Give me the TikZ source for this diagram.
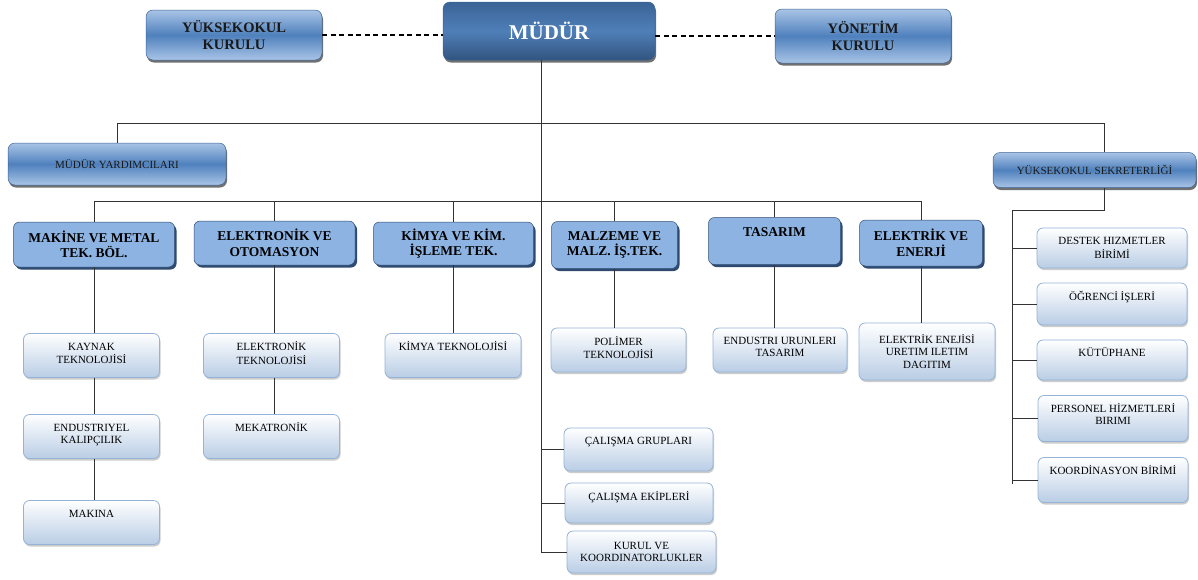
\documentclass[tikz,border=0pt]{standalone}
\usepackage{fontspec}
\setmainfont{Liberation Serif}
\usetikzlibrary{calc,shadows}

\definecolor{glassblue}{HTML}{4F81BD}
\definecolor{glasslight}{HTML}{A9C4E6}
\definecolor{glassedge}{HTML}{3C6497}
\definecolor{chiefblue}{HTML}{3A6396}
\definecolor{chieflight}{HTML}{4F7FB8}
\definecolor{deptblue}{HTML}{8DB3E2}
\definecolor{deptedge}{HTML}{2E4A70}
\definecolor{subedge}{HTML}{95B3D7}
\definecolor{subfill}{HTML}{B9CDE5}
\definecolor{wire}{HTML}{333333}

\newcommand{\toptext}[2][28pt]{\parbox[c][#1][t]{132pt}{\centering\strut#2}}

\tikzset{
  board/.style={rounded corners=7pt, draw=glassedge, line width=0.5pt,
    top color=glasslight, bottom color=glasslight, middle color=glassblue,
    drop shadow={shadow xshift=1pt, shadow yshift=-2.5pt, fill=black!70, opacity=0.8},
    align=center, inner sep=0pt, text=black!90},
  chief/.style={board, top color=chiefblue, bottom color=chiefblue!85!black,
    middle color=chieflight, text=white},
  dept/.style={rounded corners=6pt, draw=deptedge, fill=deptblue, line width=0.5pt,
    drop shadow={shadow xshift=2pt, shadow yshift=-2.5pt, fill=deptedge, opacity=1},
    align=center, inner sep=0pt, font=\bfseries\fontsize{13.5}{15.5}\selectfont},
  unit/.style={rounded corners=6pt, draw=subedge, line width=0.8pt,
    top color=white, bottom color=subfill,
    drop shadow={shadow xshift=1pt, shadow yshift=-2pt, fill=black!25, opacity=0.8},
    align=center, inner sep=0pt, font=\fontsize{11}{12.3}\selectfont},
  link/.style={draw=wire, line width=0.8pt},
  council/.style={draw=black, line width=1.5pt, dash pattern=on 5pt off 3.5pt}
}

\begin{document}
\begin{tikzpicture}[x=1pt, y=-1pt]
  %%%%% START %%%%%
  \useasboundingbox (0,0) rectangle (1198,579);

  % top row
  \node[chief, minimum width=212, minimum height=58, font=\bfseries\fontsize{21}{24}\selectfont] (mudur) at (549,31) {MÜDÜR};
  \node[board, minimum width=176, minimum height=50, font=\bfseries\fontsize{14.5}{16.5}\selectfont] (kurul) at (234,35) {YÜKSEKOKUL\\KURULU};
  \node[board, minimum width=176, minimum height=54, font=\bfseries\fontsize{14.5}{16.5}\selectfont] (yonetim) at (863,36) {YÖNETİM\\KURULU};

  \node[board, minimum width=218, minimum height=42, font=\fontsize{11}{13}\selectfont] (yard) at (117,164) {MÜDÜR YARDIMCILARI};
  \node[board, minimum width=203, minimum height=35, font=\fontsize{11}{13}\selectfont] (sekr) at (1094.5,170) {YÜKSEKOKUL SEKRETERLİĞİ};

  % departments
  \node[dept, minimum width=161, minimum height=45] (makine) at (94,244.5) {MAKİNE VE METAL\\TEK. BÖL.};
  \node[dept, minimum width=161, minimum height=44] (elektronik) at (274.5,243) {ELEKTRONİK VE\\OTOMASYON};
  \node[dept, minimum width=160, minimum height=43] (kimya) at (453.5,243.5) {KİMYA VE KİM.\\İŞLEME TEK.};
  \node[dept, minimum width=126, minimum height=47] (malzeme) at (614.5,245) {MALZEME VE\\MALZ. İŞ.TEK.};
  \node[dept, minimum width=123, minimum height=47] (tasarim) at (774.5,241) {\toptext[31pt]{TASARIM}};
  \node[dept, minimum width=123, minimum height=46] (elektrik) at (921,243) {ELEKTRİK VE\\ENERJİ};

  % programmes
  \node[unit, minimum width=136, minimum height=44] (kaynak) at (91.5,355.5) {\toptext{KAYNAK\\TEKNOLOJİSİ}};
  \node[unit, minimum width=136, minimum height=44] (kalip) at (91.5,436.5) {\toptext{ENDUSTRIYEL\\KALIPÇILIK}};
  \node[unit, minimum width=136, minimum height=44] (makina) at (91.5,522.5) {\toptext{MAKINA}};
  \node[unit, minimum width=136, minimum height=44] (elteknik) at (271.5,355.5) {\toptext{ELEKTRONİK\\TEKNOLOJİSİ}};
  \node[unit, minimum width=136, minimum height=44] (mekatronik) at (271.5,436.5) {\toptext{MEKATRONİK}};
  \node[unit, minimum width=136, minimum height=44] (kimtek) at (453,355.5) {\toptext{KİMYA TEKNOLOJİSİ}};
  \node[unit, minimum width=135, minimum height=44] (polimer) at (618.5,350) {\toptext{POLİMER\\TEKNOLOJİSİ}};
  \node[unit, minimum width=134, minimum height=44] (endurun) at (780,350) {\toptext{ENDUSTRI URUNLERI\\TASARIM}};
  \node[unit, minimum width=136, minimum height=57] (elenerji) at (927,351.5) {ELEKTRİK ENEJİSİ\\URETIM ILETIM\\DAGITIM};

  % boards under the director
  \node[unit, minimum width=149, minimum height=43] (calgrup) at (638.5,449.5) {\toptext[27pt]{ÇALIŞMA GRUPLARI}};
  \node[unit, minimum width=148, minimum height=40] (calekip) at (639,503) {\toptext[24pt]{ÇALIŞMA EKİPLERİ}};
  \node[unit, minimum width=149, minimum height=42] (kurulko) at (641.5,552) {KURUL VE\\KOORDINATORLUKLER};

  % secretariat units
  \node[unit, minimum width=150, minimum height=40] (destek) at (1112,248) {\toptext[24pt]{DESTEK HIZMETLER\\BİRİMİ}};
  \node[unit, minimum width=150, minimum height=42] (ogrenci) at (1112,304) {\toptext[26pt]{ÖĞRENCİ İŞLERİ}};
  \node[unit, minimum width=150, minimum height=40] (kutup) at (1112,360) {\toptext[24pt]{KÜTÜPHANE}};
  \node[unit, minimum width=150, minimum height=46] (personel) at (1113,418.5) {\toptext[30pt]{PERSONEL HİZMETLERİ\\BIRIMI}};
  \node[unit, minimum width=150, minimum height=45] (koord) at (1113,480) {\toptext[29pt]{KOORDİNASYON BİRİMİ}};

  % connectors
  \draw[council] (kurul.east) -- (kurul.east -| mudur.west);
  \draw[council] (yonetim.west -| mudur.east) -- (yonetim.west);

  \coordinate (trunk) at ($(mudur.south)+(-8,0)$);
  \coordinate (sekrtop) at ($(sekr.north)+(10,0)$);
  \coordinate (bus) at (0,201);
  \coordinate (sbus) at (1012,210);

  \draw[link] (yard.north) -- ++(0,-19) -| (sekrtop);
  \draw[link] (trunk) -- (trunk |- kurulko.west);
  \foreach \u in {calgrup,calekip,kurulko}
    \draw[link] (trunk |- \u.west) -- (\u.west);

  \draw[link] (makine.north) -- (makine.north |- bus) -- (elektrik.north |- bus) -- (elektrik.north);
  \foreach \d in {elektronik,kimya,malzeme,tasarim}
    \draw[link] (\d.north) -- (\d.north |- bus);

  \draw[link] (makine.south) -- (makine.south |- kaynak.north);
  \draw[link] (makine.south |- kaynak.south) -- (makine.south |- kalip.north);
  \draw[link] (makine.south |- kalip.south) -- (makine.south |- makina.north);
  \draw[link] (elektronik.south) -- (elektronik.south |- elteknik.north);
  \draw[link] (elektronik.south |- elteknik.south) -- (elektronik.south |- mekatronik.north);
  \draw[link] (kimya.south) -- (kimya.south |- kimtek.north);
  \draw[link] (malzeme.south) -- (malzeme.south |- polimer.north);
  \draw[link] (tasarim.south) -- (tasarim.south |- endurun.north);
  \draw[link] (elektrik.south) -- (elektrik.south |- elenerji.north);

  \draw[link] (sekr.south -| sekrtop) -- (sekrtop |- sbus) -- (sbus) -- ($(sbus |- koord.west)+(0,4)$);
  \foreach \u in {destek,ogrenci,kutup,personel,koord}
    \draw[link] (sbus |- \u.west) -- (\u.west);

  %%%%% END %%%%%
\end{tikzpicture}
\end{document}
